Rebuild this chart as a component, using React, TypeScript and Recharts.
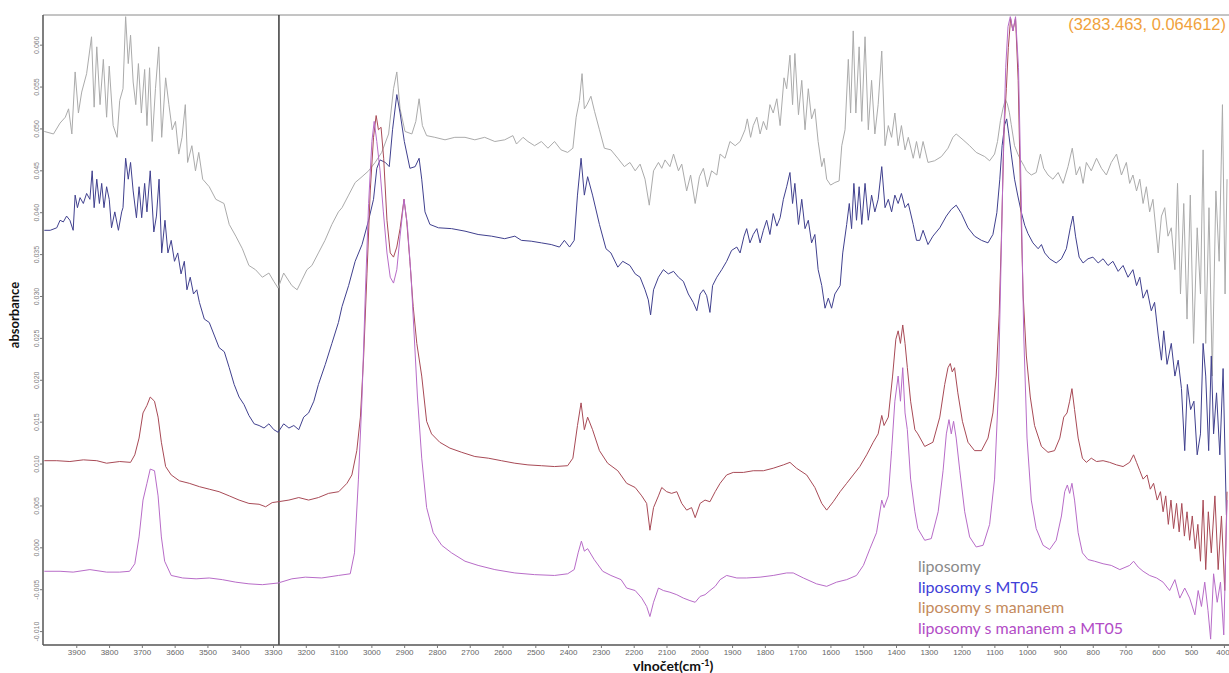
import { LineChart, Line, XAxis, YAxis, ReferenceLine } from "recharts";

type Pt = [number, number];

// wavenumber (cm-1), absorbance
const liposomy: Pt[] = [
  [3999, 0.0497], [3971, 0.0494], [3951, 0.0507], [3935, 0.0514], [3925, 0.0524], [3915, 0.0494], [3905, 0.0568], [3895, 0.0519],
  [3885, 0.0544], [3870, 0.0566], [3855, 0.061], [3847, 0.0526], [3839, 0.0598], [3829, 0.0529], [3819, 0.0583], [3809, 0.0514],
  [3801, 0.0575], [3789, 0.0504], [3777, 0.049], [3769, 0.0534], [3759, 0.0548], [3751, 0.0634], [3743, 0.0578], [3736, 0.0612],
  [3728, 0.0556], [3720, 0.0529], [3712, 0.0578], [3703, 0.0519], [3693, 0.0571], [3686, 0.0504], [3678, 0.0573], [3670, 0.0485],
  [3660, 0.0548], [3650, 0.0598], [3641, 0.049], [3629, 0.0561], [3619, 0.0529], [3609, 0.0499], [3599, 0.0509], [3589, 0.047],
  [3579, 0.049], [3569, 0.0529], [3562, 0.046], [3549, 0.048], [3538, 0.045], [3528, 0.0472], [3516, 0.044], [3496, 0.0431],
  [3476, 0.0416], [3451, 0.0411], [3435, 0.0386], [3415, 0.0372], [3395, 0.0357], [3375, 0.0337], [3355, 0.0332], [3334, 0.0323],
  [3314, 0.0328], [3299, 0.0318], [3286, 0.031], [3269, 0.0328], [3244, 0.0313], [3228, 0.0308], [3213, 0.032], [3198, 0.0332],
  [3183, 0.0337], [3163, 0.0352], [3143, 0.0367], [3122, 0.0386], [3102, 0.0401], [3091, 0.0406], [3071, 0.0421], [3051, 0.0436],
  [3030, 0.0443], [3010, 0.045], [2990, 0.046], [2970, 0.0472], [2949, 0.0494], [2934, 0.0548], [2924, 0.0568], [2914, 0.0524],
  [2899, 0.0497], [2878, 0.0494], [2866, 0.0509], [2856, 0.0536], [2846, 0.0504], [2833, 0.0492], [2808, 0.049], [2777, 0.0487],
  [2747, 0.049], [2716, 0.049], [2686, 0.0487], [2656, 0.049], [2625, 0.0485], [2595, 0.0487], [2570, 0.0492], [2559, 0.0482],
  [2539, 0.049], [2524, 0.0485], [2504, 0.048], [2483, 0.0485], [2463, 0.0477], [2443, 0.0485], [2423, 0.0475], [2403, 0.0472],
  [2387, 0.0477], [2377, 0.0514], [2367, 0.0534], [2359, 0.0566], [2352, 0.0524], [2344, 0.0529], [2332, 0.0539], [2321, 0.0521],
  [2306, 0.0499], [2291, 0.0477], [2271, 0.0475], [2250, 0.0465], [2230, 0.0455], [2213, 0.046], [2197, 0.045], [2182, 0.0458],
  [2167, 0.044], [2154, 0.0409], [2141, 0.045], [2126, 0.046], [2116, 0.0453], [2106, 0.0463], [2091, 0.0455], [2080, 0.047],
  [2065, 0.045], [2055, 0.0458], [2040, 0.0426], [2028, 0.0445], [2014, 0.0411], [2001, 0.0443], [1989, 0.0453], [1977, 0.0431],
  [1964, 0.045], [1948, 0.0445], [1938, 0.047], [1923, 0.0465], [1908, 0.0485], [1892, 0.048], [1877, 0.0485], [1862, 0.0499],
  [1855, 0.0512], [1845, 0.049], [1837, 0.0504], [1826, 0.0514], [1816, 0.0494], [1806, 0.0509], [1796, 0.0499], [1786, 0.0529],
  [1776, 0.0519], [1765, 0.0536], [1755, 0.0504], [1743, 0.0561], [1735, 0.0548], [1725, 0.0588], [1717, 0.0529], [1710, 0.059],
  [1699, 0.0517], [1689, 0.0558], [1679, 0.0499], [1669, 0.0548], [1659, 0.0512], [1649, 0.0524], [1639, 0.0485], [1628, 0.0455],
  [1621, 0.0465], [1613, 0.044], [1601, 0.0433], [1588, 0.0436], [1575, 0.0438], [1567, 0.048], [1557, 0.0499], [1547, 0.0583],
  [1540, 0.0519], [1532, 0.0617], [1524, 0.0519], [1514, 0.0598], [1506, 0.0509], [1496, 0.061], [1486, 0.0499], [1476, 0.0558],
  [1466, 0.0494], [1456, 0.0529], [1445, 0.0593], [1435, 0.048], [1425, 0.0504], [1415, 0.049], [1405, 0.0519], [1395, 0.048],
  [1385, 0.0504], [1374, 0.0475], [1364, 0.049], [1349, 0.0465], [1339, 0.0485], [1329, 0.0465], [1319, 0.0485], [1304, 0.046],
  [1284, 0.0462], [1263, 0.0467], [1243, 0.0477], [1228, 0.049], [1218, 0.0494], [1197, 0.0487], [1177, 0.048], [1157, 0.0472],
  [1131, 0.0467], [1116, 0.0462], [1101, 0.047], [1092, 0.0485], [1083, 0.051], [1075, 0.0525], [1068, 0.0535], [1062, 0.053],
  [1056, 0.052], [1050, 0.0505], [1040, 0.048], [1030, 0.047], [1020, 0.0462], [1010, 0.0455], [1004, 0.045], [989, 0.0445],
  [974, 0.0448], [961, 0.047], [951, 0.0453], [938, 0.0445], [923, 0.044], [907, 0.0448], [892, 0.0435], [877, 0.0455],
  [864, 0.0477], [852, 0.0445], [841, 0.0455], [831, 0.0435], [821, 0.046], [806, 0.045], [790, 0.0465], [775, 0.0453],
  [760, 0.0445], [745, 0.046], [729, 0.047], [714, 0.0445], [699, 0.046], [689, 0.0435], [679, 0.0445], [668, 0.0426],
  [658, 0.044], [648, 0.0411], [638, 0.0431], [628, 0.0401], [618, 0.0416], [602, 0.0352], [592, 0.0396], [582, 0.0406],
  [572, 0.0372], [562, 0.0382], [551, 0.0332], [543, 0.0435], [534, 0.0303], [524, 0.0411], [514, 0.0273], [504, 0.0421],
  [494, 0.0244], [483, 0.0382], [473, 0.0303], [465, 0.0475], [457, 0.0244], [447, 0.0406], [437, 0.0205], [426, 0.0426],
  [416, 0.0342], [406, 0.0529], [398, 0.0303], [392, 0.044],
];

const liposomyMT05: Pt[] = [
  [3999, 0.0379], [3981, 0.0379], [3961, 0.0382], [3951, 0.0391], [3941, 0.0389], [3931, 0.0396], [3921, 0.0391], [3911, 0.0379],
  [3905, 0.0421], [3898, 0.0406], [3890, 0.0418], [3880, 0.0411], [3870, 0.0423], [3860, 0.0416], [3853, 0.045], [3847, 0.0406],
  [3839, 0.044], [3831, 0.0411], [3824, 0.0435], [3817, 0.0406], [3809, 0.0431], [3801, 0.0416], [3794, 0.0382], [3784, 0.0401],
  [3773, 0.0379], [3763, 0.0401], [3759, 0.0406], [3751, 0.0465], [3743, 0.044], [3736, 0.046], [3728, 0.0426], [3718, 0.0394],
  [3710, 0.0431], [3702, 0.0394], [3693, 0.0435], [3686, 0.0401], [3676, 0.045], [3665, 0.0377], [3657, 0.0396], [3649, 0.044],
  [3641, 0.0352], [3631, 0.0391], [3622, 0.0352], [3612, 0.0367], [3602, 0.0342], [3592, 0.0352], [3582, 0.0327], [3572, 0.0342],
  [3564, 0.0308], [3554, 0.0323], [3544, 0.0303], [3534, 0.0308], [3526, 0.0293], [3511, 0.0273], [3496, 0.0269], [3481, 0.0254],
  [3466, 0.0239], [3450, 0.0234], [3435, 0.0215], [3420, 0.0195], [3405, 0.018], [3390, 0.0171], [3375, 0.0158], [3359, 0.0148],
  [3344, 0.0146], [3329, 0.0143], [3314, 0.0148], [3299, 0.0141], [3286, 0.0138], [3269, 0.0148], [3253, 0.0143], [3238, 0.0146],
  [3223, 0.0141], [3208, 0.0156], [3193, 0.0161], [3177, 0.0175], [3163, 0.0195], [3142, 0.0219], [3122, 0.0244], [3102, 0.0269],
  [3091, 0.0288], [3071, 0.0313], [3051, 0.0342], [3030, 0.0362], [3010, 0.0391], [2995, 0.0416], [2985, 0.0453], [2975, 0.0463],
  [2959, 0.046], [2947, 0.0455], [2937, 0.0499], [2924, 0.0541], [2914, 0.0519], [2901, 0.0485], [2884, 0.0453], [2868, 0.0455],
  [2856, 0.0465], [2848, 0.044], [2838, 0.0401], [2823, 0.0386], [2797, 0.0382], [2757, 0.0381], [2716, 0.0378], [2676, 0.0374],
  [2635, 0.0372], [2595, 0.0369], [2564, 0.0372], [2544, 0.0367], [2514, 0.0366], [2483, 0.0364], [2453, 0.0362], [2428, 0.0359],
  [2413, 0.0367], [2397, 0.0359], [2383, 0.0367], [2373, 0.0421], [2362, 0.0465], [2352, 0.0421], [2342, 0.0443], [2327, 0.0421],
  [2306, 0.0386], [2286, 0.0357], [2271, 0.0352], [2250, 0.0335], [2235, 0.0342], [2213, 0.0337], [2197, 0.0327], [2182, 0.0323],
  [2167, 0.0308], [2157, 0.0296], [2150, 0.0278], [2141, 0.0308], [2126, 0.0323], [2111, 0.0332], [2096, 0.0327], [2080, 0.033],
  [2065, 0.0323], [2050, 0.0318], [2035, 0.0303], [2020, 0.0293], [2009, 0.0283], [1999, 0.0303], [1989, 0.0308], [1979, 0.0301],
  [1969, 0.0281], [1961, 0.0313], [1948, 0.0323], [1933, 0.0332], [1918, 0.0342], [1903, 0.0355], [1887, 0.0359], [1877, 0.0352],
  [1865, 0.0372], [1857, 0.0381], [1847, 0.0364], [1837, 0.0374], [1826, 0.0381], [1816, 0.0364], [1806, 0.0379], [1796, 0.0391],
  [1786, 0.0374], [1776, 0.0399], [1765, 0.0384], [1755, 0.0394], [1745, 0.0416], [1735, 0.0431], [1725, 0.0448], [1717, 0.0411],
  [1710, 0.0435], [1699, 0.0386], [1689, 0.0416], [1679, 0.0381], [1669, 0.0391], [1659, 0.0364], [1649, 0.0374], [1639, 0.0332],
  [1628, 0.0313], [1618, 0.0286], [1608, 0.0298], [1598, 0.0286], [1588, 0.0303], [1572, 0.0313], [1564, 0.0352], [1552, 0.0386],
  [1544, 0.0411], [1537, 0.0381], [1530, 0.0435], [1522, 0.0391], [1514, 0.0431], [1506, 0.0386], [1496, 0.0435], [1486, 0.0391],
  [1476, 0.0421], [1466, 0.0401], [1456, 0.0416], [1445, 0.0455], [1435, 0.0406], [1425, 0.0416], [1415, 0.0401], [1405, 0.0421],
  [1395, 0.0411], [1385, 0.0423], [1374, 0.0406], [1364, 0.0411], [1349, 0.0386], [1339, 0.0367], [1329, 0.0367], [1319, 0.0379],
  [1304, 0.0362], [1289, 0.0372], [1268, 0.0382], [1248, 0.0396], [1233, 0.0404], [1218, 0.0409], [1202, 0.0399], [1182, 0.0382],
  [1162, 0.0372], [1141, 0.0367], [1121, 0.0364], [1106, 0.0374], [1094, 0.04], [1085, 0.044], [1078, 0.048], [1070, 0.0505],
  [1064, 0.0512], [1058, 0.0495], [1050, 0.047], [1040, 0.044], [1030, 0.042], [1019, 0.04], [1009, 0.0385], [999, 0.0375],
  [984, 0.0364], [968, 0.0357], [958, 0.0362], [948, 0.0352], [933, 0.0345], [913, 0.034], [897, 0.0345], [882, 0.0357],
  [870, 0.0382], [862, 0.0396], [854, 0.0372], [843, 0.0347], [831, 0.034], [816, 0.0345], [801, 0.0347], [785, 0.034],
  [770, 0.0345], [755, 0.0337], [740, 0.0342], [724, 0.033], [709, 0.0337], [694, 0.0323], [679, 0.0332], [668, 0.0313],
  [658, 0.0323], [648, 0.0298], [636, 0.0308], [623, 0.0283], [613, 0.0293], [602, 0.0254], [592, 0.0224], [585, 0.0259],
  [575, 0.0219], [562, 0.0244], [551, 0.0205], [541, 0.0224], [531, 0.019], [521, 0.0116], [513, 0.0195], [503, 0.0165],
  [493, 0.0175], [483, 0.0111], [473, 0.0136], [465, 0.0244], [457, 0.0205], [448, 0.0116], [440, 0.0229], [433, 0.0136],
  [424, 0.0185], [414, 0.0111], [404, 0.0214], [394, 0.0039],
];

const liposomyMananem: Pt[] = [
  [3999, 0.0104], [3961, 0.0104], [3921, 0.0103], [3880, 0.0105], [3839, 0.0104], [3809, 0.0101], [3769, 0.0103], [3736, 0.0102],
  [3723, 0.0111], [3710, 0.0131], [3698, 0.0161], [3686, 0.017], [3676, 0.018], [3663, 0.0175], [3652, 0.0156], [3642, 0.0126],
  [3629, 0.0097], [3612, 0.0087], [3587, 0.008], [3557, 0.0077], [3526, 0.0073], [3496, 0.007], [3466, 0.0067], [3435, 0.0062],
  [3405, 0.0057], [3375, 0.0053], [3344, 0.0052], [3324, 0.0049], [3304, 0.0054], [3286, 0.0055], [3253, 0.0057], [3223, 0.006],
  [3193, 0.0057], [3163, 0.006], [3132, 0.0065], [3101, 0.0067], [3076, 0.0077], [3061, 0.0087], [3046, 0.0116], [3035, 0.0156],
  [3025, 0.0229], [3015, 0.0327], [3005, 0.0426], [2995, 0.049], [2987, 0.0516], [2980, 0.0499], [2972, 0.0502], [2964, 0.0465],
  [2954, 0.0391], [2944, 0.0352], [2934, 0.0347], [2924, 0.0359], [2914, 0.0381], [2902, 0.0416], [2894, 0.0391], [2884, 0.0342],
  [2874, 0.0288], [2863, 0.0244], [2848, 0.0205], [2833, 0.0151], [2818, 0.0136], [2793, 0.0126], [2762, 0.0119], [2726, 0.0114],
  [2686, 0.0109], [2645, 0.0107], [2605, 0.0104], [2564, 0.0101], [2524, 0.0099], [2483, 0.0098], [2443, 0.0097], [2403, 0.0098],
  [2387, 0.0107], [2373, 0.0146], [2362, 0.0173], [2352, 0.0141], [2342, 0.0156], [2327, 0.0141], [2306, 0.0116], [2281, 0.0101],
  [2250, 0.0092], [2223, 0.0077], [2197, 0.0072], [2177, 0.0062], [2162, 0.0053], [2152, 0.0021], [2141, 0.0048], [2126, 0.0062],
  [2116, 0.0072], [2101, 0.0067], [2086, 0.0065], [2070, 0.0067], [2055, 0.0053], [2040, 0.0045], [2025, 0.0048], [2014, 0.0036],
  [1999, 0.0053], [1984, 0.0057], [1969, 0.0055], [1953, 0.0067], [1938, 0.0077], [1918, 0.0087], [1898, 0.009], [1867, 0.009],
  [1837, 0.0092], [1806, 0.0092], [1776, 0.0095], [1745, 0.0099], [1725, 0.0102], [1705, 0.0095], [1674, 0.0087], [1649, 0.0072],
  [1628, 0.0053], [1613, 0.0045], [1593, 0.0055], [1572, 0.0067], [1552, 0.0077], [1532, 0.0087], [1512, 0.0097], [1491, 0.0111],
  [1471, 0.0126], [1456, 0.0136], [1445, 0.0158], [1438, 0.0146], [1425, 0.0156], [1412, 0.0205], [1402, 0.0249], [1395, 0.0259],
  [1388, 0.0244], [1381, 0.0266], [1374, 0.0244], [1367, 0.0215], [1357, 0.0175], [1344, 0.0141], [1335, 0.0136], [1314, 0.0121],
  [1289, 0.0126], [1268, 0.0156], [1253, 0.0195], [1243, 0.0215], [1236, 0.022], [1230, 0.021], [1223, 0.0215], [1213, 0.0185],
  [1199, 0.0151], [1182, 0.0126], [1162, 0.0116], [1141, 0.0116], [1121, 0.0131], [1106, 0.0161], [1096, 0.0205], [1087, 0.0278],
  [1080, 0.0372], [1072, 0.0499], [1065, 0.0548], [1059, 0.0597], [1052, 0.0632], [1045, 0.0617], [1037, 0.0632], [1029, 0.0558],
  [1022, 0.0426], [1014, 0.0303], [1004, 0.0229], [992, 0.018], [979, 0.0146], [958, 0.0121], [938, 0.0114], [918, 0.0116],
  [902, 0.0131], [890, 0.0156], [880, 0.0161], [872, 0.0175], [865, 0.019], [857, 0.0165], [846, 0.0131], [833, 0.0107],
  [821, 0.0102], [806, 0.0107], [790, 0.0103], [770, 0.0104], [750, 0.0102], [729, 0.0099], [709, 0.0097], [689, 0.0102],
  [677, 0.0111], [668, 0.0102], [658, 0.0092], [648, 0.0082], [636, 0.0087], [626, 0.007], [616, 0.0077], [605, 0.0057],
  [595, 0.0067], [587, 0.0043], [579, 0.0062], [571, 0.0028], [563, 0.0057], [555, 0.0023], [546, 0.0053], [538, 0.0019],
  [530, 0.0053], [522, 0.0014], [514, 0.0043], [506, 0.0009], [498, 0.0038], [489, -0.0001], [481, 0.0028], [473, -0.0016],
  [465, 0.0057], [457, -0.0026], [449, 0.0043], [440, -0.0006], [429, 0.0062], [419, -0.0026], [409, 0.0038], [399, -0.0051],
  [392, 0.0067],
];

const liposomyMananemMT05: Pt[] = [
  [3999, -0.0028], [3951, -0.0028], [3911, -0.0029], [3860, -0.0026], [3809, -0.0029], [3769, -0.0029], [3739, -0.0028], [3723, -0.0019],
  [3710, 0.0013], [3698, 0.0057], [3686, 0.0077], [3676, 0.0094], [3663, 0.0092], [3652, 0.0062], [3642, 0.0013], [3632, -0.0016],
  [3612, -0.0033], [3577, -0.0036], [3536, -0.0037], [3496, -0.0036], [3456, -0.0038], [3415, -0.0041], [3375, -0.0043], [3334, -0.0044],
  [3286, -0.0042], [3244, -0.0037], [3203, -0.0035], [3153, -0.0036], [3102, -0.0033], [3066, -0.0031], [3053, -0.0006], [3041, 0.0082],
  [3030, 0.018], [3020, 0.0303], [3010, 0.0411], [3000, 0.0485], [2993, 0.0509], [2985, 0.0485], [2975, 0.045], [2965, 0.0401],
  [2954, 0.0352], [2944, 0.0323], [2934, 0.0316], [2924, 0.0332], [2914, 0.0372], [2902, 0.0416], [2892, 0.0386], [2881, 0.0327],
  [2871, 0.0254], [2861, 0.018], [2848, 0.0107], [2833, 0.0048], [2813, 0.0018], [2787, 0.0003], [2757, -0.0006], [2716, -0.0016],
  [2676, -0.0021], [2625, -0.0026], [2564, -0.003], [2504, -0.0032], [2443, -0.0033], [2403, -0.0031], [2383, -0.0026], [2371, -0.0006],
  [2361, 0.0008], [2352, -0.0004], [2342, -0.0001], [2322, -0.0014], [2296, -0.0028], [2271, -0.0033], [2240, -0.0038], [2223, -0.0048],
  [2197, -0.0051], [2177, -0.006], [2162, -0.007], [2152, -0.0082], [2141, -0.0065], [2126, -0.0048], [2111, -0.0051], [2091, -0.0053],
  [2070, -0.0056], [2050, -0.006], [2030, -0.0063], [2014, -0.0065], [1999, -0.0058], [1984, -0.0056], [1969, -0.0051], [1953, -0.0046],
  [1938, -0.0038], [1918, -0.0033], [1887, -0.0036], [1857, -0.0036], [1816, -0.0035], [1776, -0.0033], [1735, -0.003], [1715, -0.003],
  [1684, -0.0036], [1644, -0.0043], [1613, -0.0046], [1583, -0.0041], [1552, -0.0038], [1522, -0.0033], [1501, -0.0021], [1481, -0.0001],
  [1461, 0.0018], [1445, 0.0057], [1438, 0.0048], [1425, 0.0062], [1415, 0.0116], [1405, 0.0175], [1395, 0.0205], [1388, 0.0175],
  [1381, 0.0215], [1374, 0.0161], [1367, 0.0141], [1357, 0.0082], [1344, 0.0043], [1335, 0.0023], [1314, 0.0009], [1294, 0.0011],
  [1273, 0.0043], [1258, 0.0092], [1248, 0.0136], [1240, 0.0153], [1233, 0.0136], [1226, 0.0151], [1218, 0.0131], [1207, 0.0092],
  [1192, 0.0043], [1177, 0.0013], [1157, 0.0001], [1136, 0.0003], [1116, 0.0028], [1101, 0.0082], [1090, 0.018], [1082, 0.0327],
  [1074, 0.0475], [1067, 0.0573], [1060, 0.0622], [1053, 0.0634], [1045, 0.0617], [1037, 0.0634], [1028, 0.0573], [1020, 0.0426],
  [1012, 0.0254], [1002, 0.0131], [989, 0.0057], [974, 0.0023], [953, 0.0003], [933, -0.0002], [913, 0.0009], [897, 0.0038],
  [887, 0.0067], [879, 0.0075], [872, 0.0065], [865, 0.0077], [857, 0.0057], [846, 0.0018], [833, -0.0006], [816, -0.0014],
  [796, -0.0016], [770, -0.0019], [745, -0.0021], [719, -0.0026], [689, -0.0021], [677, -0.0016], [663, -0.0023], [648, -0.0028],
  [628, -0.0033], [607, -0.0036], [587, -0.0041], [567, -0.0051], [551, -0.0038], [536, -0.006], [521, -0.0048], [506, -0.006],
  [490, -0.008], [480, -0.0051], [470, -0.007], [460, -0.0041], [450, -0.0075], [442, -0.0109], [433, -0.0031], [422, -0.0065],
  [412, -0.0041], [402, -0.0104], [392, 0.0057],
];

const xTicks = [3900, 3800, 3700, 3600, 3500, 3400, 3300, 3200, 3100, 3000, 2900, 2800, 2700, 2600, 2500, 2400, 2300, 2200, 2100,
  2000, 1900, 1800, 1700, 1600, 1500, 1400, 1300, 1200, 1100, 1000, 900, 800, 700, 600, 500, 400];
const yTicks = [-0.01, -0.005, 0, 0.005, 0.01, 0.015, 0.02, 0.025, 0.03, 0.035, 0.04, 0.045, 0.05, 0.055, 0.06];

const series = [
  { name: "liposomy", points: liposomy, stroke: "#ababab", label: "#8a8a8a" },
  { name: "liposomy s MT05", points: liposomyMT05, stroke: "#40408e", label: "#4040d8" },
  { name: "liposomy s mananem", points: liposomyMananem, stroke: "#a84a56", label: "#c48a5c" },
  { name: "liposomy s mananem a MT05", points: liposomyMananemMT05, stroke: "#b86cc8", label: "#b24cc6" },
];

const cursorWn = 3283.463;
const cursorAbs = 0.064612;

function YTick({ x, y, payload }: any) {
  return (
    <text x={x} y={y} transform={`rotate(-90 ${x} ${y})`} textAnchor="middle" fontSize={7}
      fill="#808080" fontFamily="'Liberation Sans', Arial, sans-serif">
      {Number(payload.value).toFixed(3)}
    </text>
  );
}

export default function App() {
  const W = 1229;
  const H = 673;
  return (
    <div style={{ position: "absolute", left: 0, top: 0, width: W, height: H, background: "#fff" }}>
      <LineChart width={W} height={H} margin={{ top: 15, right: 0, bottom: 0, left: 0 }}>
        <XAxis
          type="number"
          dataKey="wn"
          domain={[386, 4003]}
          reversed
          allowDataOverflow
          ticks={xTicks}
          height={28}
          tickSize={3}
          tickMargin={1}
          tick={{ fontSize: 8, fill: "#666", fontFamily: "'Liberation Sans', Arial, sans-serif" }}
          tickLine={{ stroke: "#777" }}
          axisLine={{ stroke: "#555", strokeWidth: 1.5 }}
        />
        <YAxis
          type="number"
          domain={[-0.0116, 0.0636]}
          allowDataOverflow
          ticks={yTicks}
          width={43}
          tickSize={3}
          tickMargin={1}
          tick={<YTick />}
          tickLine={{ stroke: "#777" }}
          axisLine={{ stroke: "#555", strokeWidth: 1.5 }}
        />
        <ReferenceLine y={0.0636} stroke="#8a8a8a" strokeWidth={1} />
        <ReferenceLine x={cursorWn} stroke="#3a3a3a" strokeWidth={1.5} />
        {series.map((s) => (
          <Line
            key={s.name}
            name={s.name}
            data={s.points.map(([wn, a]) => ({ wn, a }))}
            dataKey="a"
            type="linear"
            stroke={s.stroke}
            strokeWidth={1}
            dot={false}
            activeDot={false}
            isAnimationActive={false}
          />
        ))}
      </LineChart>

      <div style={{ position: "absolute", right: 3, top: 16, color: "#f0a23c", fontSize: 16.5, lineHeight: 1,
        fontFamily: "'Liberation Sans', Arial, sans-serif", whiteSpace: "nowrap" }}>
        ({cursorWn.toFixed(3)}, {cursorAbs.toFixed(6)})
      </div>

      <div style={{ position: "absolute", left: 14, top: 315, transform: "translate(-50%, -50%) rotate(-90deg)",
        fontSize: 13, fontWeight: 700, fontFamily: "Lato, 'Open Sans', sans-serif", whiteSpace: "nowrap", color: "#111" }}>
        absorbance
      </div>

      <div style={{ position: "absolute", left: 633, top: 659, fontSize: 14, lineHeight: 1, fontWeight: 700,
        fontFamily: "Lato, 'Open Sans', sans-serif", whiteSpace: "nowrap", color: "#111" }}>
        vlnočet(cm<span style={{ fontSize: 9, position: "relative", top: -5 }}>-1</span>)
      </div>

      <div style={{ position: "absolute", left: 918, top: 556, fontFamily: "Lato, 'Open Sans', sans-serif", fontSize: 16 }}>
        {series.map((s) => (
          <div key={s.name} style={{ color: s.label, lineHeight: "20.6px", whiteSpace: "nowrap" }}>{s.name}</div>
        ))}
      </div>
    </div>
  );
}
